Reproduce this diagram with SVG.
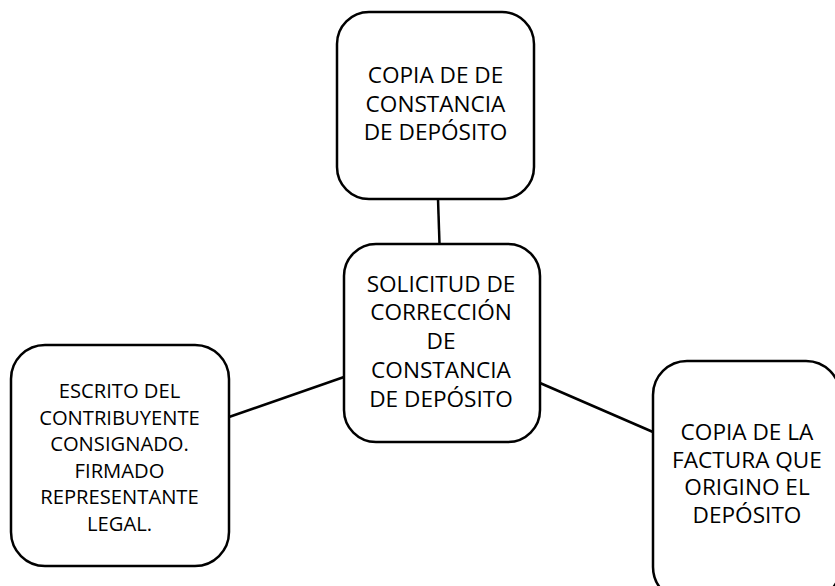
<svg xmlns="http://www.w3.org/2000/svg" width="835" height="586" viewBox="0 0 835 586">
<style>
.box{fill:#fff;stroke:#000;stroke-width:2.5}
.ln{stroke:#000;stroke-width:2.5;fill:none}
.t{font-family:"Open Sans","Liberation Sans",sans-serif;fill:#000;text-anchor:middle}
.big{font-size:22.6px}
.sm{font-size:20.2px}
</style>
<rect width="835" height="586" fill="#fff"/>
<g id="connectors">
<line class="ln" x1="438" y1="199" x2="439.5" y2="244"/>
<line class="ln" x1="229" y1="417" x2="344" y2="377"/>
<line class="ln" x1="540" y1="383" x2="653" y2="432"/>
</g>
<g id="top">
<rect class="box" x="337" y="12" width="197" height="187" rx="32"/>
<text class="t big"><tspan x="435.5" y="83.4">COPIA DE DE</tspan><tspan x="435.5" y="111.7">CONSTANCIA</tspan><tspan x="435.5" y="140">DE DEPÓSITO</tspan></text>
</g>
<g id="center">
<rect class="box" x="344" y="244" width="196" height="198" rx="32"/>
<text class="t big"><tspan x="441" y="291.7">SOLICITUD DE</tspan><tspan x="441" y="320.4">CORRECCIÓN</tspan><tspan x="441" y="349.1">DE</tspan><tspan x="441" y="377.8">CONSTANCIA</tspan><tspan x="441" y="406.5">DE DEPÓSITO</tspan></text>
</g>
<g id="left">
<rect class="box" x="11" y="345" width="218" height="221" rx="34"/>
<text class="t sm"><tspan x="119.5" y="398">ESCRITO DEL</tspan><tspan x="119.5" y="424.5">CONTRIBUYENTE</tspan><tspan x="119.5" y="451">CONSIGNADO.</tspan><tspan x="119.5" y="477.5">FIRMADO</tspan><tspan x="119.5" y="504">REPRESENTANTE</tspan><tspan x="119.5" y="530.5">LEGAL.</tspan></text>
</g>
<g id="right">
<rect class="box" x="653" y="361" width="187" height="240" rx="34"/>
<text class="t big"><tspan x="747" y="440">COPIA DE LA</tspan><tspan x="747" y="467.7">FACTURA QUE</tspan><tspan x="747" y="495.4">ORIGINO EL</tspan><tspan x="747" y="523">DEPÓSITO</tspan></text>
</g>
</svg>
